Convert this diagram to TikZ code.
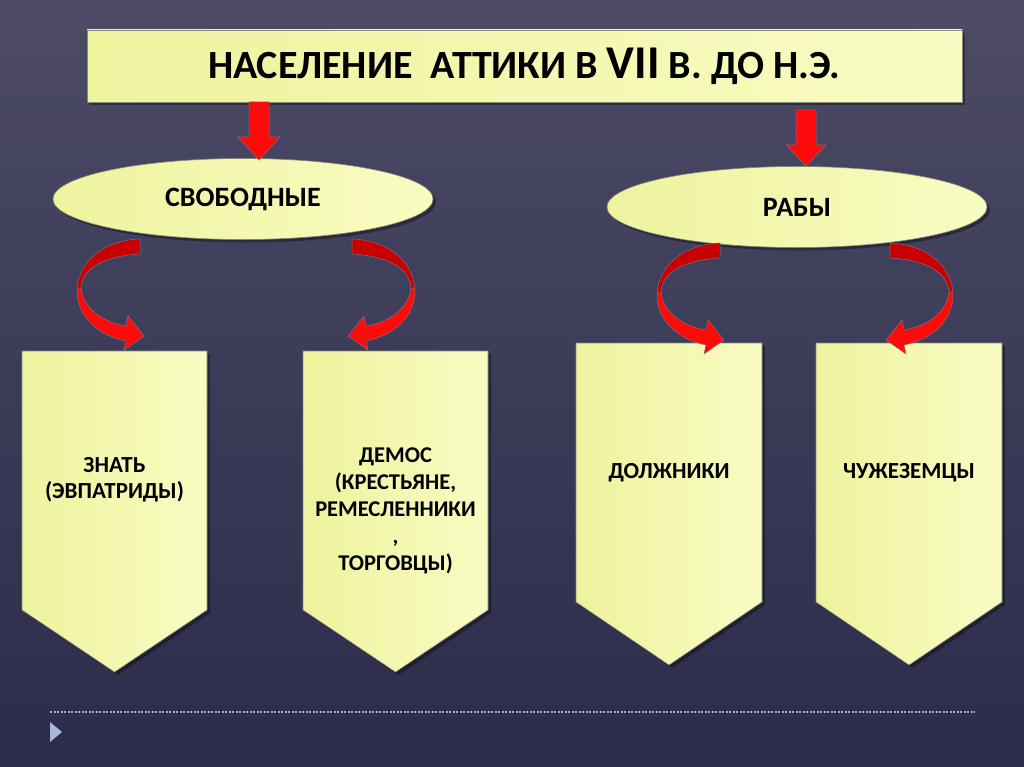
\documentclass[tikz,border=0pt]{standalone}
\usepackage{fontspec}
\setmainfont{Carlito}
\usetikzlibrary{shadows,shapes.geometric}
\definecolor{bgtop}{HTML}{4D4B66}
\definecolor{bgbot}{HTML}{2A2C4A}
\definecolor{paleL}{HTML}{EEF39E}
\definecolor{paleR}{HTML}{F9FCC2}
\definecolor{redA}{HTML}{FF0A0A}
\definecolor{redD}{HTML}{C80000}
\definecolor{edgec}{HTML}{8A8A78}
\definecolor{arrowedge}{HTML}{7C6E82}
\definecolor{dotc}{HTML}{A4AACB}
\definecolor{tric}{HTML}{A8B8D8}
\newcommand\ribbonshape{%
  \filldraw[redD, draw=arrowedge, line width=0.5pt]
    (0,0) .. controls (-32,1) and (-60,19) .. (-63,49) -- (-59,49)
    .. controls (-58,29) and (-35,17) .. (0,15) -- cycle;
  \filldraw[redA, draw=arrowedge, line width=0.5pt]
    (-63,49) .. controls (-64,79) and (-40,97) .. (-14,102) -- (-16,111)
    -- (4,97) -- (-12,77) -- (-14,87)
    .. controls (-38,83) and (-57,69) .. (-59,49) -- cycle;}
\begin{document}
\begin{tikzpicture}[x=1pt,y=-1pt,
  paleshade/.style={left color=paleL, right color=paleR, draw=edgec, line width=0.6pt},
  shadowed/.style={drop shadow={shadow xshift=3pt,shadow yshift=-3pt,opacity=0.35,fill=black}},
  blockarrow/.style={fill=redA, draw=arrowedge, line width=0.5pt},
  lbl/.style={align=center, text=black, inner sep=0pt},
  ellfont/.style={font=\fontsize{28}{32}\selectfont\bfseries},
  bigboxfont/.style={font=\fontsize{23}{27}\selectfont\bfseries}]
% background
\shade[top color=bgtop, bottom color=bgbot] (0,0) rectangle (1024,767);
\useasboundingbox (0,0) rectangle (1024,767);

% title
\node[paleshade, shadowed, rectangle, minimum width=875pt, minimum height=72pt, inner sep=0pt,
      font=\fontsize{40}{44}\selectfont\bfseries] (title) at (524.5,66)
  {НАСЕЛЕНИЕ\ \ АТТИКИ В {\fontsize{47}{44}\selectfont VII} В. ДО Н.Э.};

% ellipses
\node[paleshade, shadowed, ellipse, minimum width=380pt, minimum height=81pt, inner sep=0pt,
      ellfont] (free) at (243,199) {СВОБОДНЫЕ};
\node[paleshade, shadowed, ellipse, minimum width=380pt, minimum height=81pt, inner sep=0pt,
      ellfont] (slaves) at (797,207) {РАБЫ};

% down arrows
\filldraw[blockarrow] (249,102) -- (269,102) -- (269,137) -- (280,137) -- (259,160)
  -- (238,137) -- (249,137) -- cycle;
\filldraw[blockarrow] (796,110) -- (816,110) -- (816,145) -- (826,145) -- (806,166)
  -- (786,145) -- (796,145) -- cycle;

% pentagon boxes
\filldraw[paleshade, shadowed] (22,351) -- (207,351) -- (207,610) -- (114.5,672) -- (22,610) -- cycle;
\filldraw[paleshade, shadowed] (303,351) -- (488,351) -- (488,610) -- (395.5,672) -- (303,610) -- cycle;
\filldraw[paleshade, shadowed] (576,343) -- (762,343) -- (762,602) -- (669,665) -- (576,602) -- cycle;
\filldraw[paleshade, shadowed] (816,343) -- (1002,343) -- (1002,602) -- (909,665) -- (816,602) -- cycle;

\node[lbl, font=\fontsize{23}{26}\selectfont\bfseries] (t1) at (114.5,480) {ЗНАТЬ\\(ЭВПАТРИДЫ)};
\node[lbl, font=\fontsize{22.5}{27}\selectfont\bfseries] (t2) at (395.5,511) {ДЕМОС\\(КРЕСТЬЯНЕ,\\РЕМЕСЛЕННИКИ\\,\\ТОРГОВЦЫ)};
\node[lbl, bigboxfont] (t3) at (669,473) {ДОЛЖНИКИ};
\node[lbl, bigboxfont] (t4) at (909,473) {ЧУЖЕЗЕМЦЫ};

% curved arrows
\begin{scope}[shift={(140,239)}] \ribbonshape \end{scope}
\begin{scope}[shift={(352,239)}, xscale=-1] \ribbonshape \end{scope}
\begin{scope}[shift={(720,243)}] \ribbonshape \end{scope}
\begin{scope}[shift={(890,243)}, xscale=-1] \ribbonshape \end{scope}

% footer
\draw[dotc, line width=2pt, dash pattern=on 2pt off 1.5pt] (50,712) -- (975,712);
\fill[tric] (50,722) -- (62,732) -- (50,742) -- cycle;
\end{tikzpicture}
\end{document}
